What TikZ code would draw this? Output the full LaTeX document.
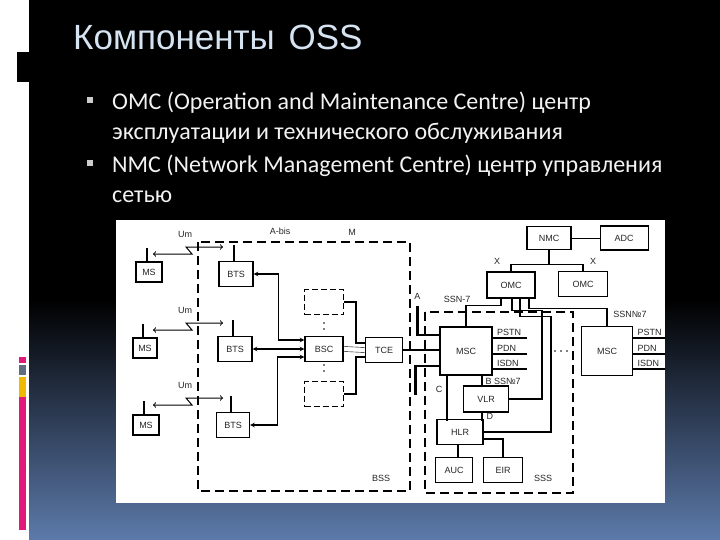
\documentclass[tikz,border=0pt]{standalone}
\usepackage{fontspec}
\setmainfont{Carlito}
\newfontfamily\titlefont{Liberation Sans}
\newfontfamily\diagfont{Liberation Sans}
\usetikzlibrary{positioning}

\definecolor{titlegray}{RGB}{214,228,242}
\definecolor{paneldark}{RGB}{28,37,53}
\definecolor{panelblue}{RGB}{92,122,170}
\definecolor{barpink}{RGB}{224,25,122}
\definecolor{baryellow}{RGB}{240,184,0}
\definecolor{bargray}{RGB}{96,108,128}

\begin{document}
\begin{tikzpicture}[
                x=1pt, y=-1pt,
                unit/.style={draw, line width=1.1pt, inner sep=0pt, minimum height=25pt,
                    font=\diagfont\fontsize{9}{10}\selectfont, text=black!85},
                ghost/.style={unit, dash pattern=on 6pt off 3pt},
                lbl/.style={font=\diagfont\fontsize{9}{10}\selectfont, text=black!85, inner sep=0pt},
                wire/.style={line width=1.1pt},
                trunk/.style={line width=2.2pt},
                zone/.style={line width=1.6pt, dash pattern=on 9pt off 5pt},
                um/.style={<->, >=to, line width=1pt},
                link/.style={<->, >=stealth, line width=1.1pt},
                bul/.style={font=\fontsize{24}{29}\selectfont, text=white!95!black, anchor=base west, inner sep=0pt},
                sq/.style={fill=white!80!black, minimum size=6pt, inner sep=0pt}
            ]
    \useasboundingbox (0,0) rectangle (720,540);
    % slide background
    \fill[white] (0,0) rectangle (720,540);
    \fill[black] (29,0) rectangle (720,300);
    \shade[top color=black, middle color=paneldark, bottom color=panelblue] (29,300) rectangle (720,540);
    \fill[black] (17,52) rectangle (29,82);
    \fill[barpink] (19,357) rectangle (26,363);
    \fill[bargray] (19,365) rectangle (26,375);
    \fill[baryellow] (19,377) rectangle (26,397);
    \fill[barpink] (19,397) rectangle (26,530);

    \node[font=\titlefont\fontsize{35}{40}\selectfont, text=titlegray, anchor=base west, inner sep=0pt]
        (T) at (73,50) {Компоненты\hspace{4pt} OSS};
    \node[sq] (b1) at (90,100) {};
    \node[sq] (b2) at (90,163) {};
    \node[bul] (L1) at (112,110) {OMC (Operation and Maintenance Centre) центр};
    \node[bul] (L2) at (112,140) {эксплуатации и технического обслуживания};
    \node[bul] (L3) at (112,173) {NMC (Network Management Centre) центр управления};
    \node[bul] (L4) at (112,203) {сетью};

    % the network scheme
    \fill[white] (116,220) rectangle (665,503);
    \begin{scope}
    \clip (116,220) rectangle (665,503);
    \draw[zone] (198,242) rectangle (410,491);
    \draw[zone] (425,312) rectangle (573,493);

    \node[unit, minimum width=26pt, minimum height=20pt] (MS1) at (149,272) {MS};
    \node[unit, minimum width=24pt, minimum height=20pt] (MS2) at (145,348) {MS};
    \node[unit, minimum width=26pt, minimum height=20pt] (MS3) at (146,425) {MS};
    \node[unit, minimum width=34pt] (BTS1) at (236,274) {BTS};
    \node[unit, minimum width=34pt] (BTS2) at (235,349) {BTS};
    \node[unit, minimum width=33pt] (BTS3) at (233,425) {BTS};
    \node[unit, minimum width=38pt] (BSC) at (324,349) {BSC};
    \node[ghost, minimum width=39pt] (G1) at (324,302) {};
    \node[ghost, minimum width=39pt] (G2) at (324,394) {};
    \node[unit, minimum width=37pt] (TCE) at (384,350) {TCE};
    \node[unit, minimum width=52pt, minimum height=48pt] (MSC1) at (466,351) {MSC};
    \node[unit, minimum width=51pt, minimum height=49pt] (MSC2) at (607,351) {MSC};
    \node[unit, minimum width=48pt, minimum height=26pt] (OMC1) at (511,285) {OMC};
    \node[unit, minimum width=49pt] (OMC2) at (583,284) {OMC};
    \node[unit, minimum width=44pt, minimum height=23pt] (NMC) at (549,238) {NMC};
    \node[unit, minimum width=48pt, minimum height=24pt, right=28pt of NMC] (ADC) {ADC};
    \node[unit, minimum width=45pt, minimum height=26pt] (VLR) at (486,399) {VLR};
    \node[unit, minimum width=46pt] (HLR) at (460,432) {HLR};
    \node[unit, minimum width=37pt] (AUC) at (454,470) {AUC};
    \node[unit, minimum width=39pt] (EIR) at (503,470) {EIR};

    % antennas and radio links
    \foreach \n in {MS1,MS2,MS3}
        \draw[wire] ([xshift=-2pt]\n.north) -- ++(0,-13);
    \foreach \n in {BTS1,BTS2,BTS3}
        \draw[wire] ([xshift=-2pt]\n.north) -- ++(0,-16);
    \foreach \n/\y in {1/254,2/330,3/405} {
        \coordinate (uml\n) at (153,\y);
        \coordinate (umr\n) at (223,\y-7);
        \draw[um] (uml\n) -- ++(39,0) -- ++(-6,-7) -- (umr\n);
        \node[lbl] (um\n) at (185,\y-20) {Um};
    }

    % BSS
    \draw[link] (BTS1.east) -- ++(25,0) |- ([yshift=9pt]BSC.west);
    \draw[link] (BTS2.east) -- (BSC.west);
    \draw[link] (BTS3.east) -- ++(27,0) |- ([yshift=-8pt]BSC.west);
    \draw[trunk] (G1.east) -- ++(12,0) |- ([yshift=7pt]TCE.west);
    \draw[trunk] (G2.east) -- ++(12,0) |- ([yshift=-7pt]TCE.west);
    \draw[thin] ([yshift=2.5pt]BSC.east) -- ([yshift=2.5pt]TCE.west);
    \draw[thin] ([yshift=-2.5pt]BSC.east) -- ([yshift=-2.5pt]TCE.west);
    \foreach \y in {323,329,365,371}
        \fill (324,\y) circle (0.9);

    % A interface
    \draw[trunk] (TCE.east) -- (TCE.east -| MSC1.west);
    \draw[trunk] ([yshift=16pt]MSC1.west) -- ++(-22,0) -- ++(0,-29) node[lbl, above, inner sep=5pt] (A) {A};
    \draw[trunk] ([yshift=-15pt]MSC1.west) -- ++(-24,0) -- ++(0,29);

    % NSS
    \foreach \m in {MSC1,MSC2} {
        \draw[wire] ([yshift=13pt]\m.east) -- ++(34,0) node[lbl, pos=0, anchor=south west, xshift=4pt, yshift=2pt] {PSTN};
        \draw[wire] ([yshift=-3pt]\m.east) -- ++(34,0) node[lbl, pos=0, anchor=south west, xshift=4pt, yshift=2pt] {PDN};
        \draw[wire] ([yshift=-18pt]\m.east) -- ++(34,0) node[lbl, pos=0, anchor=south west, xshift=4pt, yshift=2pt] {ISDN};
    }
    \draw[wire] ([xshift=16pt]MSC1.south) -- ++(0,11) node[lbl, pos=0.5, right=3pt] (B) {B SS№7};
    \draw[wire] ([xshift=-19pt]MSC1.south) -- ++(0,45) node[lbl, pos=0.3, left=4pt] (C) {C};
    \draw[wire] ([xshift=-4pt]VLR.south) -- ++(0,8) node[lbl, pos=0.5, right=4pt] (D) {D};
    \draw[wire] ([xshift=-2pt]HLR.south) -- ++(0,13);
    \draw[wire] ([yshift=-7pt]HLR.east) -| (EIR.north);
    \foreach \x in {555,561,567}
        \fill (\x,351) circle (0.9);

    % OSS
    \draw[thin] (NMC) -- (ADC);
    \draw[wire] (NMC.south) -- ++(0,14) -| (OMC1.north);
    \draw[wire] (NMC.south) ++(0,14) -| (OMC2.north);
    \draw[wire] ([xshift=-10pt]OMC1.south) -- ++(0,7) -| (MSC1.north);
    \draw[wire] ([xshift=1pt]OMC1.south) -- ++(0,12) -- ++(30,0) |- (VLR.east);
    \draw[wire] ([xshift=9pt]OMC1.south) -- ++(0,18) -- ++(31,0) |- (HLR.east);
    \draw[wire] ([xshift=18pt]OMC1.south) -- ++(0,10) -| (MSC2.north);

    % labels
    \node[lbl] (abis) at (280,231) {A-bis};
    \node[lbl] (M) at (352,232) {M};
    \node[lbl] (ssn1) at (457,299) {SSN-7};
    \node[lbl] (ssn2) at (630,314) {SSN№7};
    \node[lbl] (x1) at (497,261) {X};
    \node[lbl] (x2) at (593,261) {X};
    \node[lbl] (bss) at (381,478) {BSS};
    \node[lbl] (sss) at (543,478) {SSS};
    \end{scope}
\end{tikzpicture}
\end{document}
